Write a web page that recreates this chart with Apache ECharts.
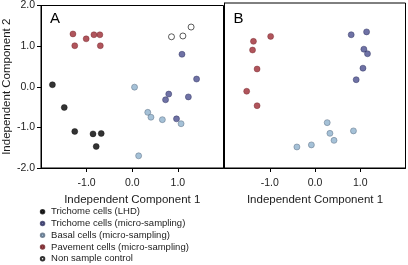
<!DOCTYPE html>
<html>
<head>
<meta charset="utf-8">
<script src="https://cdn.jsdelivr.net/npm/echarts@6/dist/echarts.min.js"></script>
<style>
  html, body { margin: 0; padding: 0; background: #fff; }
  #chart { width: 408px; height: 265px; }
</style>
</head>
<body>
<div id="chart"></div>
<script>
// panel A
var lhdA = [[-1.75, 0.05], [-1.49, -0.51], [-1.26, -1.10], [-0.86, -1.16], [-0.68, -1.15], [-0.79, -1.47]]
var trichA = [[1.09, 0.80], [1.41, 0.19], [0.80, -0.18], [0.73, -0.32], [1.23, -0.25], [0.97, -0.79]]
var basalA = [[0.05, -0.01], [0.34, -0.63], [0.41, -0.75], [0.66, -0.81], [1.07, -0.91], [0.14, -1.70]]
var paveA = [[-1.30, 1.30], [-1.26, 1.01], [-1.01, 1.18], [-0.84, 1.28], [-0.71, 1.28], [-0.70, 1.01]]
var controlA = [[0.86, 1.23], [1.11, 1.25], [1.29, 1.47]]
// panel B
var trichB = [[0.80, 1.23], [1.14, 1.30], [1.08, 0.88], [1.16, 0.77], [1.06, 0.42], [0.91, 0.14]]
var basalB = [[0.27, -0.90], [0.85, -1.10], [0.33, -1.16], [0.42, -1.33], [-0.08, -1.44], [-0.40, -1.49]]
var paveB = [[-0.98, 1.19], [-1.36, 1.07], [-1.38, 0.86], [-1.28, 0.40], [-1.51, -0.14], [-1.28, -0.49]]

var names = ['Trichome cells (LHD)', 'Trichome cells (micro-sampling)', 'Basal cells (micro-sampling)',
  'Pavement cells (micro-sampling)', 'Non sample control']
var xTicks = [-1, 0, 1]
var yTicks = [-2, -1, 0, 1, 2]

var styles = {}
styles[names[0]] = { color: '#000000', borderColor: '#000000', borderWidth: 0.5 }
styles[names[1]] = { color: '#4b4f8e', borderColor: '#2f3260', borderWidth: 0.6 }
styles[names[2]] = { color: '#8fb1cd', borderColor: '#56697e', borderWidth: 0.6 }
styles[names[3]] = { color: '#9c2b33', borderColor: '#6e1d22', borderWidth: 0.5 }
styles[names[4]] = { color: '#ffffff', borderColor: '#000000', borderWidth: 0.8 }

var font = 'Liberation Sans, Arial, sans-serif'
var txt = '#1c1c1c'

function xAxis(idx) {
  return {
    gridIndex: idx,
    type: 'value',
    min: -2,
    max: 2,
    interval: 1,
    name: 'Independent Component 1',
    nameLocation: 'middle',
    nameGap: 21,
    nameTextStyle: { color: txt, fontSize: 11.5, fontFamily: font },
    splitLine: { show: false },
    axisLine: { onZero: false, lineStyle: { color: '#000', width: 1 } },
    axisTick: { customValues: xTicks, length: 4, lineStyle: { color: '#000' } },
    axisLabel: {
      customValues: xTicks,
      margin: 10,
      color: txt,
      fontSize: 10.5,
      fontFamily: font,
      formatter: function(v) { return v.toFixed(1) }
    }
  }
}

function yAxis(idx) {
  var ax = {
    gridIndex: idx,
    type: 'value',
    min: -2,
    max: 2,
    interval: 1,
    splitLine: { show: false },
    axisLine: { onZero: false, lineStyle: { color: '#000', width: 1 } },
    axisTick: { show: idx === 0, length: 4, lineStyle: { color: '#000' } },
    axisLabel: {
      show: idx === 0,
      customValues: yTicks,
      margin: 6,
      color: txt,
      fontSize: 10.5,
      fontFamily: font,
      formatter: function(v) { return v.toFixed(1) }
    }
  }
  if (idx === 0) {
    ax.name = 'Independent Component 2'
    ax.nameLocation = 'middle'
    ax.nameGap = 23
    ax.nameTextStyle = { color: txt, fontSize: 11.5, fontFamily: font }
  }
  return ax
}

function serie(name, data, idx) {
  return {
    name: name,
    type: 'scatter',
    xAxisIndex: idx,
    yAxisIndex: idx,
    data: data,
    symbol: 'circle',
    symbolSize: 6,
    itemStyle: styles[name],
    emphasis: { disabled: true }
  }
}

var chart = echarts.init(document.getElementById('chart'), null, { renderer: 'canvas' })
chart.setOption({
  animation: false,
  grid: [
    { left: 41, top: 3, width: 182.5, height: 165, show: true, borderColor: '#000', borderWidth: 1 },
    { left: 224.5, top: 3, width: 181, height: 165, show: true, borderColor: '#000', borderWidth: 1 }
  ],
  xAxis: [xAxis(0), xAxis(1)],
  yAxis: [yAxis(0), yAxis(1)],
  legend: {
    orient: 'vertical',
    left: 39.8,
    top: 206,
    itemGap: 0,
    itemWidth: 7,
    itemHeight: 3.5,
    icon: 'circle',
    padding: 0,
    data: names,
    textStyle: { color: txt, fontSize: 9.5, fontFamily: font, lineHeight: 11.7 }
  },
  graphic: [
    { type: 'text', left: 50, top: 11, style: { text: 'A', fontSize: 15, fontFamily: font, fill: '#000' } },
    { type: 'text', left: 233.5, top: 11, style: { text: 'B', fontSize: 15, fontFamily: font, fill: '#000' } }
  ],
  series: [
    serie(names[0], lhdA, 0),
    serie(names[1], trichA, 0),
    serie(names[2], basalA, 0),
    serie(names[3], paveA, 0),
    serie(names[4], controlA, 0),
    serie(names[1], trichB, 1),
    serie(names[2], basalB, 1),
    serie(names[3], paveB, 1)
  ]
})
</script>
</body>
</html>
